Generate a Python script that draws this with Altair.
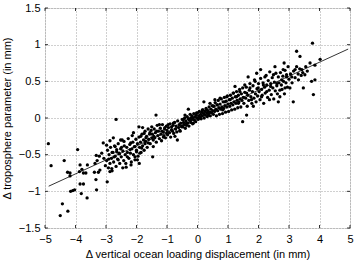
import altair as alt
import pandas as pd

# scattered points (x: ocean loading displacement, y: troposphere parameter), in mm
x_pts = [
    -4.89, -4.80, -4.37, -4.43, -4.50, -4.25, -4.26, -4.18, -4.18, -4.16, -4.09, -4.03, -3.93, -3.87, -3.79,
    -3.85, -3.74, -3.81, -3.62, -3.85, -3.74, -3.66, -3.61, -3.38, -3.33, -3.31, -3.25, -3.20, -3.36, -3.29,
    -3.32, -3.22, -3.14, -3.07, -2.96, -3.02, -2.87, -2.81, -2.91, -2.98, -3.09, -2.87, -2.76, -2.67, -2.80,
    -2.73, -2.65, -2.56, -2.70, -2.60, -2.49, -2.52, -2.41, -2.34, -2.45, -2.30, -2.21, -2.19, -2.14, -2.10,
    -2.18, -2.05, -2.00, -2.05, -1.97, -1.91, -1.89, -1.83, -1.86, -1.80, -1.92, -1.75, -1.69, -1.72, -1.61,
    -1.56, -1.50, -1.45, -1.47, -1.36, -1.43, -1.34, -1.25, -1.17, -1.12, -1.07, -1.01, -0.96, -0.85, -0.79,
    -0.74, -0.66, -0.57, -0.52, -0.46, -0.41, -0.36, -0.30, -0.22, -0.14, -0.03, 0.08, 0.16, 0.21, 0.30,
    0.36, 0.41, 0.52, 0.57, 0.65, 0.74, 0.83, 0.90, 0.96, 1.07, 1.17, 1.23, 1.28, 1.34, 1.48,
    1.61, 1.39, 1.55, 1.61, 1.66, 1.72, 1.77, 1.83, 1.89, 1.94, 2.07, 1.99, 2.10, 2.16, 2.21,
    2.27, 2.36, 2.40, 2.49, 2.54, 2.60, 2.65, 2.70, 2.76, 2.81, 2.84, 2.87, 2.92, 3.03, 3.14,
    3.09, 3.20, 3.25, 3.31, 3.36, 3.42, 3.47, 3.52, 3.69, 3.74, 3.80, 3.77, 3.85, 4.02, 3.85,
    -1.48, -1.45, -1.42, -1.40, -1.38, -1.35, -1.32, -1.30, -1.28, -1.25, -1.22, -1.20, -1.18, -1.15, -1.12,
    -1.10, -1.08, -1.05, -1.02, -1.00, -0.98, -0.95, -0.92, -0.90, -0.88, -0.85, -0.82, -0.80, -0.78, -0.75,
    -0.72, -0.70, -0.68, -0.65, -0.62, -0.60, -0.58, -0.55, -0.52, -0.50,
    -0.48, -0.46, -0.44, -0.42, -0.40, -0.38, -0.36, -0.34, -0.32, -0.30, -0.28, -0.26, -0.24, -0.22, -0.20,
    -0.18, -0.16, -0.14, -0.12, -0.10, -0.08, -0.06, -0.04, -0.02, 0.00, 0.02, 0.04, 0.06, 0.08, 0.10,
    0.12, 0.14, 0.16, 0.18, 0.20, 0.22, 0.24, 0.26, 0.28, 0.30, 0.32, 0.34, 0.36, 0.38, 0.40,
    0.42, 0.44, 0.46, 0.48, 0.50,
    0.52, 0.54, 0.56, 0.58, 0.60, 0.62, 0.64, 0.66, 0.68, 0.70, 0.72, 0.74, 0.76, 0.78, 0.80,
    0.82, 0.84, 0.86, 0.88, 0.90, 0.92, 0.94, 0.96, 0.98, 1.00, 1.02, 1.04, 1.06, 1.08, 1.10,
    1.12, 1.14, 1.16, 1.18, 1.20, 1.22, 1.24, 1.26, 1.28, 1.30, 1.32, 1.34, 1.36, 1.38, 1.40,
    1.42, 1.44, 1.46, 1.48, 1.50,
    1.52, 1.55, 1.58, 1.60, 1.63, 1.65, 1.68, 1.70, 1.72, 1.75, 1.78, 1.80, 1.82, 1.85, 1.87,
    1.90, 1.92, 1.95, 1.97, 2.00, 2.02, 2.05, 2.07, 2.10, 2.12, 2.15, 2.17, 2.20, 2.22, 2.25,
    2.27, 2.30, 2.32, 2.35, 2.37, 2.40, 2.42, 2.45, 2.47, 2.50, 2.52, 2.55, 2.57, 2.60, 2.62,
    2.65, 2.67, 2.70, 2.72, 2.75, 2.77, 2.80, 2.82, 2.85, 2.87, 2.90, 2.92, 2.95, 2.97, 3.00,
    -2.98, -2.95, -2.92, -2.90, -2.87, -2.85, -2.82, -2.80, -2.77, -2.75, -2.72, -2.70, -2.67, -2.65, -2.62,
    -2.60, -2.57, -2.55, -2.52, -2.50, -2.47, -2.45, -2.42, -2.40, -2.37, -2.35, -2.32, -2.30, -2.27, -2.25,
    -2.22, -2.20, -2.17, -2.15, -2.12, -2.10, -2.07, -2.05, -2.02, -2.00, -1.97, -1.95, -1.92, -1.90, -1.87,
    -1.85, -1.82, -1.80, -1.77, -1.75, -1.72, -1.70, -1.67, -1.65, -1.62, -1.60, -1.57, -1.55, -1.52, -1.50,
    3.05, 3.10, 3.15, 3.20, 3.25, 3.30, 3.35, 3.40, 3.45, 3.55, 3.60,
]
y_pts = [
    -0.35, -0.65, -0.58, -1.17, -1.33, -1.27, -0.74, -0.75, -0.79, -1.00, -0.99, -0.98, -0.43, -0.73, -0.70,
    -0.90, -0.90, -1.03, -1.09, -0.64, -0.75, -0.75, -0.64, -0.74, -0.84, -0.98, -0.74, -0.71, -0.62, -0.58,
    -0.51, -0.52, -0.48, -0.55, -0.87, -0.65, -0.73, -0.69, -0.56, -0.37, -0.34, -0.31, -0.27, -0.02, -0.47,
    -0.53, -0.46, -0.49, -0.39, -0.57, -0.40, -0.30, -0.32, -0.67, -0.68, -0.53, -0.43, -0.34, -0.24, -0.20,
    -0.64, -0.53, -0.46, -0.39, -0.57, -0.62, -0.48, -0.41, -0.25, -0.13, -0.12, -0.21, -0.27, -0.35, -0.34,
    -0.20, -0.12, -0.39, -0.53, 0.04, -0.25, -0.18, -0.09, -0.18, -0.26, -0.13, -0.21, -0.09, -0.16, -0.07,
    -0.25, -0.30, -0.18, -0.12, -0.02, 0.04, -0.07, 0.12, 0.00, -0.07, 0.07, 0.00, 0.11, 0.22, 0.11,
    0.04, 0.20, 0.16, 0.25, 0.18, 0.27, 0.11, 0.22, 0.29, 0.25, 0.34, 0.43, 0.29, 0.20, -0.05,
    0.04, 0.36, 0.45, 0.34, 0.56, 0.41, 0.25, 0.16, 0.50, 0.61, 0.66, 0.41, 0.29, 0.45, 0.56,
    0.36, 0.25, 0.47, 0.59, 0.70, 0.47, 0.22, 0.38, 0.52, 0.66, 0.75, 0.41, 0.56, 0.41, 0.22,
    0.56, 0.66, 0.91, 0.52, 0.84, 0.66, 0.41, 0.59, 0.75, 0.50, 0.32, 1.02, 0.52, 0.80, 0.72,
    -0.22, -0.30, -0.15, -0.27, -0.20, -0.33, -0.10, -0.24, -0.18, -0.28, -0.14, -0.22, -0.31, -0.09, -0.19,
    -0.24, -0.15, -0.27, -0.11, -0.17, -0.23, -0.13, -0.20, -0.08, -0.26, -0.12, -0.18, -0.10, -0.21, -0.06,
    -0.15, -0.11, -0.19, -0.04, -0.13, -0.09, -0.17, -0.07, -0.11, -0.02,
    -0.12, -0.06, -0.09, 0.00, -0.14, -0.04, -0.10, 0.02, -0.07, -0.01, -0.11, -0.03, 0.05, -0.06, -0.02,
    0.03, -0.08, 0.00, 0.06, -0.03, 0.02, -0.05, 0.04, 0.00, 0.07, -0.02, 0.03, 0.09, 0.01, 0.05,
    -0.01, 0.08, 0.03, 0.11, 0.06, 0.00, 0.09, 0.04, 0.13, 0.07, 0.02, 0.10, 0.06, 0.15, 0.08,
    0.03, 0.12, 0.07, 0.17, 0.10,
    0.05, 0.16, 0.09, 0.21, 0.12, 0.03, 0.18, 0.10, 0.24, 0.14, 0.05, 0.19, 0.12, 0.26, 0.15,
    0.06, 0.22, 0.13, 0.28, 0.17, 0.08, 0.23, 0.15, 0.30, 0.19, 0.09, 0.25, 0.16, 0.31, 0.20,
    0.11, 0.27, 0.18, 0.34, 0.22, 0.12, 0.29, 0.20, 0.36, 0.24, 0.14, 0.31, 0.22, 0.39, 0.26,
    0.15, 0.33, 0.24, 0.41, 0.28,
    0.20, 0.35, 0.27, 0.42, 0.16, 0.31, 0.24, 0.38, 0.47, 0.29, 0.20, 0.36, 0.44, 0.27, 0.52,
    0.33, 0.22, 0.40, 0.30, 0.47, 0.36, 0.25, 0.54, 0.39, 0.31, 0.48, 0.20, 0.42, 0.34, 0.58,
    0.45, 0.28, 0.51, 0.38, 0.63, 0.43, 0.32, 0.55, 0.41, 0.26, 0.49, 0.37, 0.61, 0.44, 0.33,
    0.56, 0.48, 0.29, 0.62, 0.45, 0.39, 0.57, 0.50, 0.33, 0.65, 0.48, 0.59, 0.42, 0.70, 0.53,
    -0.58, -0.44, -0.68, -0.50, -0.62, -0.40, -0.55, -0.72, -0.47, -0.60, -0.38, -0.52, -0.66, -0.43, -0.56,
    -0.35, -0.48, -0.62, -0.42, -0.53, -0.30, -0.45, -0.58, -0.38, -0.50, -0.62, -0.40, -0.47, -0.28, -0.55,
    -0.36, -0.48, -0.60, -0.42, -0.33, -0.50, -0.39, -0.57, -0.29, -0.44, -0.35, -0.52, -0.26, -0.40, -0.33,
    -0.47, -0.22, -0.38, -0.30, -0.44, -0.18, -0.32, -0.25, -0.40, -0.15, -0.29, -0.22, -0.35, -0.17, -0.27,
    0.60, 0.48, 0.64, 0.55, 0.70, 0.60, 0.67, 0.58, 0.62, 0.70, 0.64,
]

# fitted line end points
fit_x = [-4.88, 4.94]
fit_y = [-0.93, 0.94]

x_ticks = [-5, -4, -3, -2, -1, 0, 1, 2, 3, 4, 5]
y_ticks = [-1.5, -1, -0.5, 0, 0.5, 1, 1.5]

W, H = 305, 220

pts = pd.DataFrame({"x": x_pts, "y": y_pts})
fit = pd.DataFrame({"x": fit_x, "y": fit_y})
xt = pd.DataFrame({"x": x_ticks})
yt = pd.DataFrame({"y": y_ticks})

FONT = "Liberation Sans"
label_expr = "replace(format(datum.value, '~g'), '-', '\u2212')"

xscale = alt.Scale(domain=[-5, 5], nice=False, zero=False)
yscale = alt.Scale(domain=[-1.5, 1.5], nice=False, zero=False)

common = dict(labelExpr=label_expr, grid=True, gridDash=[1, 2], gridColor="#888888",
              gridWidth=0.8, domain=False, ticks=False, labelPadding=5, labelFontSize=11,
              titleFontSize=11, titleFontWeight="normal", labelColor="black",
              titleColor="black", labelFont=FONT, titleFont=FONT, labelOverlap=False,
              labelFlush=False)
xaxis = alt.Axis(values=x_ticks, title="\u0394 vertical ocean loading displacement (in mm)",
                 titlePadding=4, **common)
yaxis = alt.Axis(values=y_ticks, title="\u0394 troposphere parameter (in mm)",
                 titlePadding=6, **common)

X = lambda: alt.X("x:Q", scale=xscale, axis=xaxis)
Y = lambda: alt.Y("y:Q", scale=yscale, axis=yaxis)

points = alt.Chart(pts).mark_circle(size=11, color="black", opacity=1).encode(x=X(), y=Y())
line = alt.Chart(fit).mark_line(color="black", strokeWidth=0.8).encode(x=X(), y=Y())

tick_style = dict(color="black", strokeWidth=0.8)
xb = alt.Chart(xt).mark_rule(**tick_style).encode(x=X(), y=alt.value(H), y2=alt.value(H - 3))
xtop = alt.Chart(xt).mark_rule(**tick_style).encode(x=X(), y=alt.value(0), y2=alt.value(3))
yl = alt.Chart(yt).mark_rule(**tick_style).encode(y=Y(), x=alt.value(0), x2=alt.value(3))
yr = alt.Chart(yt).mark_rule(**tick_style).encode(y=Y(), x=alt.value(W), x2=alt.value(W - 3))

chart = alt.layer(points, line, xb, xtop, yl, yr).properties(
    width=W, height=H,
    autosize=alt.AutoSizeParams(type="none"),
    padding={"left": 45, "top": 8, "right": 5, "bottom": 32},
).configure_view(stroke="black", strokeWidth=1).configure(background="white")

chart.save("out.html", embed_options={"renderer": "svg", "actions": False})
